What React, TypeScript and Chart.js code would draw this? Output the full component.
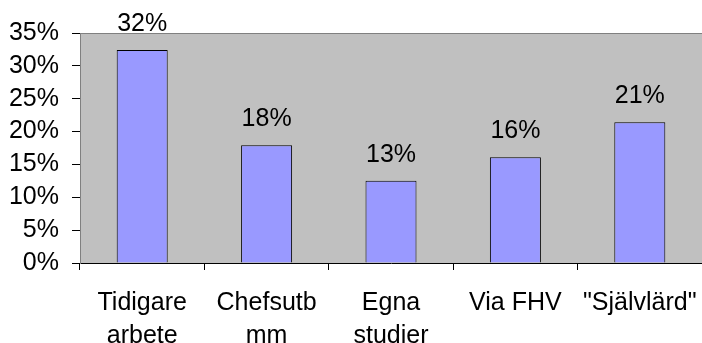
import React, { useEffect, useRef } from "react";
import { Chart, registerables } from "chart.js";

Chart.register(...registerables);

const categories: string[][] = [
  ["Tidigare", "arbete"],
  ["Chefsutb", "mm"],
  ["Egna", "studier"],
  ["Via FHV"],
  ['"Självlärd"'],
];
const shares: number[] = [0.324, 0.179, 0.125, 0.161, 0.214];
const yTickMax = 0.35;
const yTickStep = 0.05;

const FONT = "'Liberation Sans', Arial, sans-serif";
const FONT_SIZE = 25;

const pct = (v: number) => `${Math.round(v * 100)}%`;

const plotBackground = {
  id: "plotBackground",
  beforeDraw(chart: any) {
    const { ctx, chartArea } = chart;
    const { left, top, right, bottom } = chartArea;
    ctx.save();
    ctx.fillStyle = "#c0c0c0";
    ctx.fillRect(left, top, right - left, bottom - top);
    ctx.strokeStyle = "#808080";
    ctx.lineWidth = 1;
    ctx.beginPath();
    ctx.moveTo(left, Math.round(top) + 0.5);
    ctx.lineTo(right, Math.round(top) + 0.5);
    ctx.stroke();
    ctx.restore();
  },
};

const valueLabels = {
  id: "valueLabels",
  afterDatasetsDraw(chart: any) {
    const { ctx } = chart;
    const meta = chart.getDatasetMeta(0);
    const data = chart.data.datasets[0].data as number[];
    ctx.save();
    ctx.font = `${FONT_SIZE}px ${FONT}`;
    ctx.fillStyle = "#000";
    ctx.textAlign = "center";
    ctx.textBaseline = "alphabetic";
    meta.data.forEach((bar: any, i: number) => {
      ctx.fillText(pct(data[i]), bar.x, bar.y - 19);
    });
    ctx.restore();
  },
};

export default function App() {
  const canvasRef = useRef<HTMLCanvasElement | null>(null);

  useEffect(() => {
    const canvas = canvasRef.current;
    if (!canvas) return;
    const chart = new Chart(canvas, {
      type: "bar",
      data: {
        labels: categories,
        datasets: [
          {
            data: shares,
            backgroundColor: "#9999ff",
            borderColor: "#000000",
            borderWidth: 1,
            categoryPercentage: 1,
            barPercentage: 0.41,
          },
        ],
      },
      options: {
        responsive: false,
        animation: false,
        maintainAspectRatio: false,
        layout: { padding: { top: 33, right: 0, left: 0, bottom: 0 } },
        plugins: {
          legend: { display: false },
          tooltip: { enabled: false },
        },
        scales: {
          x: {
            grid: {
              offset: true,
              drawOnChartArea: false,
              drawTicks: true,
              tickLength: 7,
              color: "#000",
            },
            border: { color: "#000", width: 1 },
            ticks: {
              color: "#000",
              font: { family: FONT, size: FONT_SIZE, lineHeight: 1.32 },
              padding: 17,
              maxRotation: 0,
              autoSkip: false,
            },
            afterFit(scale: any) {
              scale.height = 80;
              scale.paddingLeft = 0;
              scale.paddingRight = 0;
            },
          },
          y: {
            min: 0,
            max: yTickMax,
            grid: {
              drawOnChartArea: false,
              drawTicks: true,
              tickLength: 8,
              color: "#000",
            },
            border: { color: "#808080", width: 1 },
            ticks: {
              stepSize: yTickStep,
              autoSkip: false,
              color: "#000",
              font: { family: FONT, size: FONT_SIZE },
              padding: 13,
              callback: (v: any) => pct(Number(v)),
            },
            afterFit(scale: any) {
              scale.width = 80;
              scale.paddingTop = 0;
              scale.paddingBottom = 0;
            },
          },
        },
      },
      plugins: [plotBackground, valueLabels],
    });
    return () => chart.destroy();
  }, []);

  return (
    <div style={{ position: "fixed", left: 0, top: 0, width: 702, height: 343, background: "#fff" }}>
      <canvas ref={canvasRef} width={702} height={343} style={{ display: "block" }} />
    </div>
  );
}
